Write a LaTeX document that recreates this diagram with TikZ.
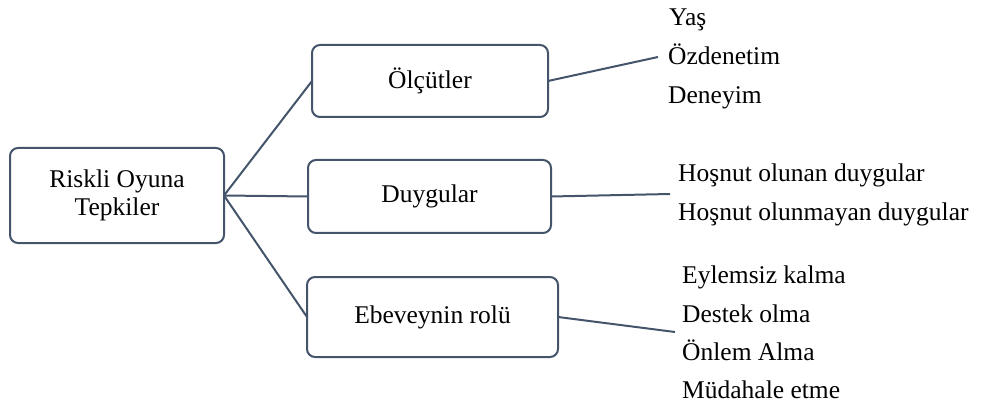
\documentclass[tikz,border=0pt]{standalone}
\usepackage{fontspec}
\setmainfont{Liberation Serif}
\definecolor{edge}{HTML}{44546A}
\begin{document}
\begin{tikzpicture}[x=1pt,y=-1pt,
  box/.style={draw=edge, line width=2pt, rounded corners=8pt, fill=white,
    inner sep=0pt, outer sep=0pt, align=center,
    font=\fontsize{25.5}{28}\selectfont},
  leaf/.style={anchor=base west, inner sep=0pt, font=\fontsize{25.5}{28}\selectfont},
  link/.style={draw=edge, line width=2pt}]
\useasboundingbox (0,0) rectangle (984,403);
\node[box, minimum width=214pt, minimum height=95pt] (root) at (117,195.5) {Riskli Oyuna\\Tepkiler};
\node[box, minimum width=236pt, minimum height=72pt] (olc) at (430,81) {Ölçütler};
\node[box, minimum width=243pt, minimum height=73pt] (duy) at (429.5,196.5) {Duygular};
\node[box, minimum width=251pt, minimum height=80pt] (ebe) at (432.5,317) {Ebeveynin rolü};

\node[leaf] (l1) at (669,26) {Yaş};
\node[leaf] (l2) at (668,65) {Özdenetim};
\node[leaf] (l3) at (668,104) {Deneyim};

\node[leaf] (h1) at (678,182) {Hoşnut olunan duygular};
\node[leaf] (h2) at (678,221) {Hoşnut olunmayan duygular};

\node[leaf] (e1) at (682,283) {Eylemsiz kalma};
\node[leaf] (e2) at (682,322) {Destek olma};
\node[leaf] (e3) at (682,360) {Önlem Alma};
\node[leaf] (e4) at (682,398) {Müdahale etme};

\coordinate (colc) at (658,57);
\coordinate (cduy) at (670,194);
\coordinate (cebe) at (675,332);

\draw[link] (root.east) -- (olc.west);
\draw[link] (root.east) -- (duy.west);
\draw[link] (root.east) -- (ebe.west);
\draw[link] (olc.east) -- (colc);
\draw[link] (duy.east) -- (cduy);
\draw[link] (ebe.east) -- (cebe);
\end{tikzpicture}
\end{document}
